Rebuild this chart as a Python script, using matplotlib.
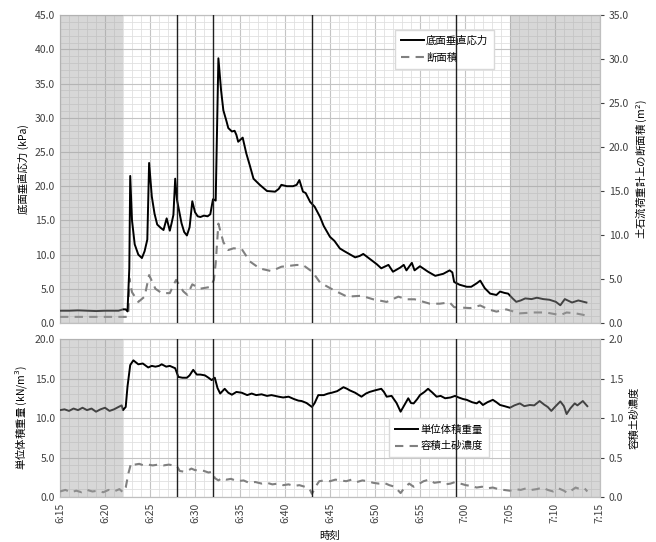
import matplotlib
matplotlib.use("Agg")
import matplotlib.pyplot as plt
from matplotlib.ticker import MultipleLocator, FuncFormatter
from matplotlib.lines import Line2D

plt.rcParams['font.family'] = ['Noto Sans CJK JP', 'DejaVu Sans']

# time in minutes after 6:00
stress_t = [15.0, 16, 17, 18, 19, 20, 21, 21.5, 22.0, 22.3, 22.5, 22.7, 22.8, 23.0, 23.3, 23.7, 24.1,
            24.4, 24.7, 24.9, 25.2, 25.5, 25.8, 26.2, 26.5, 26.85, 27.2, 27.4, 27.6, 27.8, 28.0, 28.5,
            28.8, 29.1, 29.4, 29.7, 30.0, 30.3, 30.6, 31.0, 31.4, 31.7, 32.0, 32.3, 32.6, 32.9, 33.15,
            33.5, 33.7, 34.1, 34.4, 34.6, 34.8, 35.3, 35.7, 36.1, 36.5, 37.2, 38.0, 38.9, 39.3, 39.6,
            40.2, 40.9, 41.3, 41.6, 42.0, 42.3, 42.8, 43.3, 43.9, 44.3, 45.0, 45.5, 46.1, 46.6, 47.0,
            47.8, 48.3, 48.7, 49.6, 50.2, 50.7, 51.5, 52.0, 52.8, 53.2, 53.5, 54.1, 54.4, 55.0, 55.9,
            56.7, 57.6, 58.3, 58.6, 58.8, 59.4, 60.2, 60.7, 61.3, 61.7, 62.2, 62.8, 63.5, 63.9, 64.4,
            64.8, 65.3, 65.7, 66.2, 66.7, 67.4, 68.0, 68.7, 69.4, 70.1, 70.6, 71.1, 71.9, 72.6, 73.5]
stress = [1.8, 1.8, 1.85, 1.8, 1.75, 1.8, 1.8, 1.8, 2.0, 2.0, 1.7, 8.0, 21.5, 15.0, 11.5, 10.0, 9.5,
          10.5, 12.2, 23.4, 18.5, 16.0, 14.4, 13.9, 13.6, 15.3, 13.5, 14.6, 15.8, 21.1, 18.0, 14.6,
          13.3, 12.8, 14.0, 17.8, 16.2, 15.6, 15.5, 15.7, 15.6, 15.9, 18.1, 17.9, 38.7, 34.0, 31.1,
          29.5, 28.5, 28.0, 28.1, 27.5, 26.5, 27.1, 24.8, 23.0, 21.1, 20.2, 19.3, 19.2, 19.6, 20.2,
          20.0, 20.0, 20.2, 20.9, 19.2, 19.0, 17.7, 17.0, 15.5, 14.2, 12.6, 12.0, 10.9, 10.5, 10.2,
          9.6, 9.8, 10.1, 9.2, 8.6, 8.0, 8.5, 7.5, 8.1, 8.5, 7.7, 8.8, 7.7, 8.3, 7.5,
          6.9, 7.2, 7.7, 7.4, 6.0, 5.6, 5.3, 5.3, 5.8, 6.2, 5.1, 4.3, 4.1, 4.6, 4.4,
          4.3, 3.6, 3.1, 3.3, 3.6, 3.5, 3.7, 3.5, 3.4, 3.1, 2.6, 3.5, 3.0, 3.3, 3.0]

area_t = [15.0, 22.5, 22.6, 22.7, 23.0, 23.7, 24.4, 24.9, 25.6, 26.3, 27.2, 27.7, 27.9, 28.7, 29.15,
          29.7, 30.55, 31.7, 32.1, 32.3, 32.6, 33.15, 33.7, 34.3, 35.2, 36.1, 37.2, 38.5, 39.6, 41.3,
          42.0, 42.8, 43.0, 43.9, 45.4, 46.9, 48.5, 49.8, 51.3, 52.6, 53.5, 54.4, 56.1, 57.2, 58.3,
          58.8, 60.6, 61.7, 62.6, 63.5, 64.6, 66.1, 67.6, 69.0, 70.6, 71.3, 72.3, 73.3]
area = [0.7, 0.7, 1.0, 5.1, 3.5, 2.4, 3.0, 5.45, 3.9, 3.4, 3.4, 4.5, 4.9, 3.6, 3.2,
        4.4, 3.9, 4.1, 4.9, 6.8, 11.3, 9.2, 8.3, 8.5, 8.4, 7.0, 6.2, 5.9, 6.4, 6.6,
        6.6, 6.0, 5.9, 4.6, 3.75, 3.0, 3.1, 2.7, 2.4, 3.0, 2.7, 2.7, 2.2, 2.2, 2.35,
        1.8, 1.7, 2.0, 1.55, 1.3, 1.55, 1.1, 1.2, 1.2, 0.9, 1.2, 1.1, 0.9]

weight_t = [15.0, 15.5, 16.0, 16.5, 17.0, 17.5, 18.0, 18.5, 19.0, 19.5, 20.0, 20.5, 21.0, 21.5, 21.85,
            22.0, 22.3, 22.5, 22.8, 23.15, 23.7, 24.2, 24.8, 25.2, 25.6, 26.0, 26.3, 26.8, 27.2, 27.8,
            28.15, 28.6, 29.1, 29.4, 29.8, 30.2, 30.6, 31.1, 31.5, 31.85, 32.2, 32.5, 32.8, 33.3, 33.7,
            34.1, 34.6, 35.2, 35.8, 36.3, 36.8, 37.4, 38.0, 38.5, 39.3, 39.8, 40.4, 41.0, 41.5, 41.85,
            42.4, 43.0, 43.3, 43.7, 44.3, 44.8, 45.2, 45.8, 46.5, 46.9, 47.2, 47.8, 48.5, 49.0, 49.4,
            50.0, 50.7, 51.0, 51.3, 51.85, 52.4, 52.85, 53.3, 53.7, 54.0, 54.3, 54.7, 55.0, 55.5, 55.9,
            56.4, 56.85, 57.3, 57.8, 58.4, 58.9, 59.3, 59.8, 60.2, 60.8, 61.3, 61.6, 62.0, 62.5, 63.1,
            63.5, 63.9, 64.4, 65.0, 65.5, 66.1, 66.6, 67.2, 67.7, 68.3, 68.8, 69.2, 69.6, 70.0, 70.6,
            71.0, 71.3, 71.7, 72.2, 72.5, 73.1, 73.6]
weight = [11.0, 11.1, 10.9, 11.2, 11.0, 11.3, 11.0, 11.2, 10.8, 11.1, 11.3, 10.9, 11.1, 11.4, 11.6,
          11.0, 11.4, 14.0, 16.7, 17.3, 16.8, 16.9, 16.4, 16.6, 16.5, 16.6, 16.8, 16.5, 16.6, 16.3,
          15.2, 15.1, 15.1, 15.4, 16.1, 15.5, 15.5, 15.4, 15.1, 14.8, 15.1, 13.8, 13.1, 13.7, 13.2,
          12.95, 13.3, 13.2, 12.9, 13.1, 12.9, 13.0, 12.8, 12.9, 12.7, 12.6, 12.7, 12.4, 12.2, 12.15,
          11.9, 11.4, 11.9, 12.9, 12.9, 13.1, 13.2, 13.4, 13.9, 13.7, 13.5, 13.2, 12.7, 13.1, 13.3,
          13.5, 13.7, 13.3, 12.7, 12.8, 11.9, 10.8, 11.7, 12.5, 11.9, 11.85, 12.4, 12.9, 13.3, 13.7,
          13.2, 12.7, 12.8, 12.5, 12.6, 12.8, 12.6, 12.4, 12.3, 12.0, 11.85, 12.1, 11.65, 12.0, 12.3,
          12.0, 11.65, 11.5, 11.3, 11.6, 11.85, 11.5, 11.65, 11.6, 12.15, 11.7, 11.4, 10.9, 11.4, 12.1,
          11.5, 10.5, 11.2, 11.85, 11.6, 12.15, 11.5]

conc_t = [15.0, 15.6, 16.2, 16.8, 17.4, 18.0, 18.6, 19.2, 19.8, 20.4, 21.0, 21.6, 22.0, 22.3, 22.6,
          22.9, 23.3, 23.8, 24.3, 24.8, 25.3, 25.9, 26.5, 27.1, 27.6, 28.0, 28.3, 28.8, 29.3, 29.6,
          30.0, 30.5, 31.0, 31.5, 31.9, 32.2, 32.6, 33.0, 33.5, 34.0, 34.7, 35.4, 36.0, 36.7, 37.4,
          38.0, 38.6, 39.2, 39.8, 40.4, 41.0, 41.6, 42.2, 42.7, 43.0, 43.4, 43.8, 44.4, 45.0, 45.6,
          46.2, 46.8, 47.4, 48.0, 48.6, 49.2, 49.8, 50.4, 51.0, 51.6, 52.2, 52.85, 53.3, 53.8, 54.3,
          54.8, 55.4, 56.0, 56.6, 57.2, 57.8, 58.4, 58.9, 59.5, 60.1, 60.7, 61.3, 61.9, 62.5, 63.1,
          63.7, 64.3, 65.0, 65.6, 66.2, 66.8, 67.4, 68.0, 68.6, 69.2, 69.8, 70.4, 71.0, 71.4, 71.8,
          72.3, 72.8, 73.3, 73.6]
conc = [0.07, 0.09, 0.06, 0.08, 0.06, 0.09, 0.07, 0.08, 0.06, 0.09, 0.07, 0.10, 0.06, 0.12, 0.30,
        0.43, 0.41, 0.42, 0.40, 0.41, 0.40, 0.41, 0.40, 0.41, 0.40, 0.39, 0.33, 0.32, 0.34, 0.36,
        0.34, 0.34, 0.33, 0.31, 0.32, 0.24, 0.21, 0.24, 0.22, 0.23, 0.20, 0.21, 0.18, 0.19, 0.17,
        0.18, 0.16, 0.17, 0.15, 0.16, 0.14, 0.15, 0.13, 0.11, 0.04, 0.13, 0.20, 0.21, 0.20, 0.22,
        0.21, 0.20, 0.22, 0.19, 0.21, 0.20, 0.18, 0.17, 0.18, 0.15, 0.13, 0.05, 0.12, 0.17, 0.13,
        0.16, 0.20, 0.22, 0.18, 0.19, 0.16, 0.17, 0.19, 0.17, 0.15, 0.14, 0.12, 0.13, 0.11, 0.12,
        0.10, 0.09, 0.08, 0.10, 0.09, 0.11, 0.09, 0.10, 0.12, 0.09, 0.07, 0.11, 0.08, 0.05, 0.08,
        0.12, 0.10, 0.11, 0.07]

event_lines = [28, 32, 43, 59]
shade_spans = [(15, 22), (65, 75)]

DASH = (0, (4, 3))


def fmt_time(x, pos):
    m = int(round(x))
    return "%d:%02d" % (6 + m // 60, m % 60)


def one_dec(v, pos):
    return "%.1f" % v


def style_axes(ax, ymax, ymajor):
    ax.set_xlim(15, 75)
    ax.set_ylim(0, ymax)
    ax.xaxis.set_major_locator(MultipleLocator(5))
    ax.xaxis.set_minor_locator(MultipleLocator(1))
    ax.yaxis.set_major_locator(MultipleLocator(ymajor))
    ax.yaxis.set_minor_locator(MultipleLocator(1))
    ax.grid(which='major', color='#c4c4c4', lw=0.8)
    ax.grid(which='minor', color='#e0e0e0', lw=0.6)
    ax.set_axisbelow(True)
    ax.yaxis.set_major_formatter(FuncFormatter(one_dec))
    ax.tick_params(which='both', length=0, labelsize=7.5, colors='#404040')
    for s in ax.spines.values():
        s.set_color('#bfbfbf')
    ax.patch.set_visible(False)
    for a, b in shade_spans:
        ax.axvspan(a, b, color='#a0a0a0', alpha=0.42, lw=0, zorder=4)
    for x in event_lines:
        ax.axvline(x, color='#202020', lw=1.0, zorder=7)


def style_right(axr, ymax, step, label):
    axr.set_ylim(0, ymax)
    axr.yaxis.set_major_locator(MultipleLocator(step))
    axr.yaxis.set_major_formatter(FuncFormatter(one_dec))
    axr.tick_params(length=3, labelsize=7.5, colors='#404040')
    for s in axr.spines.values():
        s.set_color('#bfbfbf')
    axr.set_ylabel(label, fontsize=7.5)


fig = plt.figure(figsize=(6.56, 5.42), dpi=100)
ax1 = fig.add_axes([0.0915, 0.404, 0.823, 0.568])
ax2 = fig.add_axes([0.0915, 0.083, 0.823, 0.2915])

# top panel
ax1r = ax1.twinx()
ax1.set_zorder(ax1r.get_zorder() + 1)
style_right(ax1r, 35, 5, '土石流荷重計上の断面積 (m$^2$)')
style_axes(ax1, 45, 5)
ax1.plot(area_t, area, color='#808080', lw=1.5, ls=DASH, zorder=3, transform=ax1r.transData)
ax1.plot(stress_t, stress, color='black', lw=1.4, zorder=3)
ax1.tick_params(axis='x', labelbottom=False)
ax1.set_ylabel('底面垂直応力 (kPa)', fontsize=7.5)
h1 = [Line2D([], [], color='black', lw=1.4), Line2D([], [], color='#808080', lw=1.5, ls=DASH)]
leg = ax1.legend(h1, ['底面垂直応力', '断面積'], loc='upper left', bbox_to_anchor=(0.61, 0.97),
                 fontsize=7.5, frameon=True, fancybox=False, edgecolor='#d9d9d9', framealpha=1,
                 handlelength=2.2, handletextpad=0.2, borderpad=0.6, labelspacing=0.6)
leg.set_zorder(6)

# bottom panel
ax2r = ax2.twinx()
ax2.set_zorder(ax2r.get_zorder() + 1)
style_right(ax2r, 2.0, 0.5, '容積土砂濃度')
style_axes(ax2, 20, 5)
ax2.plot(conc_t, conc, color='#808080', lw=1.5, ls=DASH, zorder=3, transform=ax2r.transData)
ax2.plot(weight_t, weight, color='black', lw=1.4, zorder=3)
ax2.xaxis.set_major_formatter(FuncFormatter(fmt_time))
ax2.tick_params(axis='x', rotation=90, pad=4)
ax2.set_ylabel('単位体積重量 (kN/m$^3$)', fontsize=7.5)
ax2.set_xlabel('時刻', fontsize=7.5, labelpad=6)
h2 = [Line2D([], [], color='black', lw=1.4), Line2D([], [], color='#808080', lw=1.5, ls=DASH)]
leg2 = ax2.legend(h2, ['単位体積重量', '容積土砂濃度'], loc='upper left', bbox_to_anchor=(0.6, 0.53),
                  fontsize=7.5, frameon=True, fancybox=False, edgecolor='#d9d9d9', framealpha=1,
                  handlelength=2.2, handletextpad=0.2, borderpad=0.6, labelspacing=0.6)
leg2.set_zorder(6)

fig.savefig('out.png', dpi=100)
